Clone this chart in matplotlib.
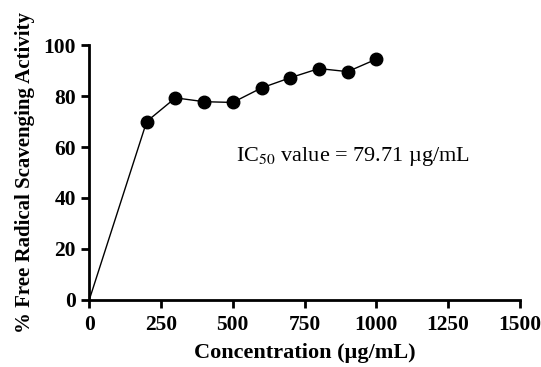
import matplotlib.pyplot as plt

conc = [0, 200, 300, 400, 500, 600, 700, 800, 900, 1000]
activity = [0, 70.0, 79.3, 77.8, 77.5, 83.2, 87.2, 90.8, 89.6, 94.5]

plt.rcParams['font.family'] = ['Liberation Serif', 'DejaVu Serif']
plt.rcParams['mathtext.fontset'] = 'stix'

fig = plt.figure(figsize=(5.41, 3.67), dpi=100)
ax = fig.add_axes([0.165, 0.183, 0.796, 0.694])

ax.plot(conc, activity, color='black', linewidth=1.0, marker='o', markersize=9,
        markevery=list(range(1, len(conc))))

ax.set_xlim(0, 1500)
ax.set_ylim(0, 100)
ax.set_xticks([0, 250, 500, 750, 1000, 1250, 1500])
ax.set_yticks([0, 20, 40, 60, 80, 100])

for s in ['top', 'right']:
    ax.spines[s].set_visible(False)
for s in ['left', 'bottom']:
    ax.spines[s].set_linewidth(2)
ax.tick_params(width=2, length=6, labelsize=15.5)
ax.tick_params(axis='x', pad=5)
for lbl in ax.get_xticklabels() + ax.get_yticklabels():
    lbl.set_fontweight('bold')

ax.set_xlabel('Concentration (µg/mL)', fontsize=16, fontweight='bold', labelpad=6)
ax.set_ylabel('% Free Radical Scavenging Activity', fontsize=15, fontweight='bold', labelpad=6)

ax.text(512, 54.5, r'IC$_{50}$ value = 79.71 µg/mL', fontsize=16)

fig.savefig('out.png', dpi=100)
